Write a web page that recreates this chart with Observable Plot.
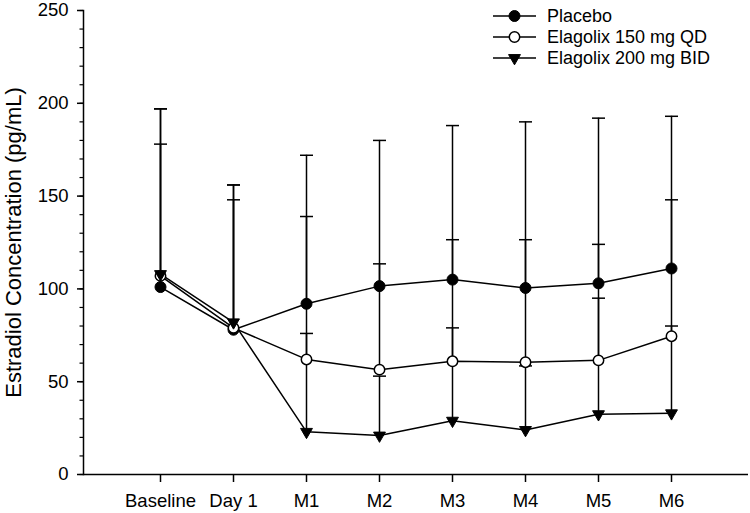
<!DOCTYPE html>
<html>
<head>
<meta charset="utf-8">
<script src="https://cdn.jsdelivr.net/npm/d3@7"></script>
<script src="https://cdn.jsdelivr.net/npm/@observablehq/plot@0.6"></script>
<style>
  html, body { margin: 0; padding: 0; background: white; }
  #wrap { position: relative; width: 750px; height: 513px; }
  #legend { position: absolute; left: 0; top: 0; }
</style>
</head>
<body>
<div id="wrap"></div>
<script>
const categories = ["Baseline", "Day 1", "M1", "M2", "M3", "M4", "M5", "M6"];
const seriesNames = ["Placebo", "Elagolix 150 mg QD", "Elagolix 200 mg BID"];

const placeboMean  = [101, 78, 92, 101.5, 105, 100.5, 103, 111];
const placeboUpper = [197, 148, 172, 180, 188, 190, 192, 193];
const qdMean  = [107, 79, 62, 56.5, 61, 60.5, 61.5, 74.5];
const qdUpper = [178, 156, 139, 113.5, 126.5, 126.5, 124, 148];
const bidMean  = [108, 82, 23, 21, 29, 24, 32.5, 33];
const bidUpper = [197, 156, 76, 53, 79, 58.5, 95, 80];

const yTicks = [0, 50, 100, 150, 200, 250];
const yMinorTicks = d3.range(0, 251, 10);
const yLabel = "Estradiol Concentration (pg/mL)";

const means = [placeboMean, qdMean, bidMean];
const uppers = [placeboUpper, qdUpper, bidUpper];
const rows = [];
seriesNames.forEach((s, si) => {
  categories.forEach((c, i) => {
    rows.push({series: s, cat: c, mean: means[si][i], upper: uppers[si][i]});
  });
});
const bySeries = s => rows.filter(d => d.series === s);

const font = "'Liberation Sans', Arial, Helvetica, sans-serif";

// horizontal cap symbol for error bars
const capSymbol = {
  draw(context, size) {
    const w = Math.sqrt(size / Math.PI);
    context.moveTo(-w, 0);
    context.lineTo(w, 0);
  }
};

const chart = Plot.plot({
  width: 750,
  height: 513,
  marginLeft: 83,
  marginRight: 2,
  marginTop: 10,
  marginBottom: 39,
  style: {fontFamily: font, fontSize: "18.5px", color: "black", background: "white"},
  x: {type: "point", domain: categories, range: [158, 672], padding: 0},
  y: {domain: [0, 250], range: [474, 10]},
  marks: [
    Plot.axisY({ticks: yMinorTicks, tickSize: 3.5, tickFormat: () => "", label: null, strokeWidth: 1.2}),
    Plot.axisY({ticks: yTicks, tickSize: 6, tickPadding: 9, tickFormat: d => String(d), label: null, strokeWidth: 1.5}),
    Plot.axisX({tickSize: 8, tickPadding: 11, label: null, strokeWidth: 1.5}),
    Plot.frame({anchor: "left", strokeWidth: 1.5}),
    Plot.ruleY([0], {strokeWidth: 1.5}),
    Plot.text([yLabel], {frameAnchor: "left", rotate: -90, dx: -70, textAnchor: "middle", lineAnchor: "middle", text: d => d, fontSize: 22}),
    Plot.ruleX(rows, {x: "cat", y1: "mean", y2: "upper", stroke: "black", strokeWidth: 1.5}),
    Plot.dot(rows, {x: "cat", y: "upper", symbol: capSymbol, r: 6.5, fill: "none", stroke: "black", strokeWidth: 1.5}),
    Plot.line(rows, {x: "cat", y: "mean", z: "series", stroke: "black", strokeWidth: 1.5}),
    Plot.dot(bySeries(seriesNames[0]), {x: "cat", y: "mean", r: 5.5, fill: "black", stroke: "black", strokeWidth: 1}),
    Plot.dot(bySeries(seriesNames[1]), {x: "cat", y: "mean", r: 5.2, fill: "white", stroke: "black", strokeWidth: 1.5}),
    Plot.dot(bySeries(seriesNames[2]), {x: "cat", y: "mean", r: 4.4, symbol: "triangle", rotate: 180, fill: "black", stroke: "black", strokeWidth: 1})
  ]
});

const wrap = document.getElementById("wrap");
wrap.appendChild(chart);

// Legend overlay
const legend = d3.select(wrap).append("svg")
  .attr("id", "legend")
  .attr("width", 750).attr("height", 80)
  .style("font-family", font);
const legendY = [16, 37, 58];
const symbols = [
  {type: d3.symbolCircle, r: 5.5, fill: "black", rot: 0},
  {type: d3.symbolCircle, r: 5.2, fill: "white", rot: 0},
  {type: d3.symbolTriangle, r: 4.4, fill: "black", rot: 180}
];
seriesNames.forEach((s, i) => {
  const g = legend.append("g").attr("transform", `translate(0,${legendY[i]})`);
  g.append("line").attr("x1", 493).attr("x2", 536).attr("y1", 0).attr("y2", 0)
    .attr("stroke", "black").attr("stroke-width", 1.5);
  g.append("path")
    .attr("d", d3.symbol(symbols[i].type, Math.PI * symbols[i].r * symbols[i].r)())
    .attr("transform", `translate(514.5,0) rotate(${symbols[i].rot})`)
    .attr("fill", symbols[i].fill).attr("stroke", "black").attr("stroke-width", i === 1 ? 1.5 : 1);
  g.append("text").attr("x", 547).attr("y", 0).attr("dy", "0.35em")
    .attr("font-size", 18).attr("fill", "black").text(s);
});
</script>
</body>
</html>
